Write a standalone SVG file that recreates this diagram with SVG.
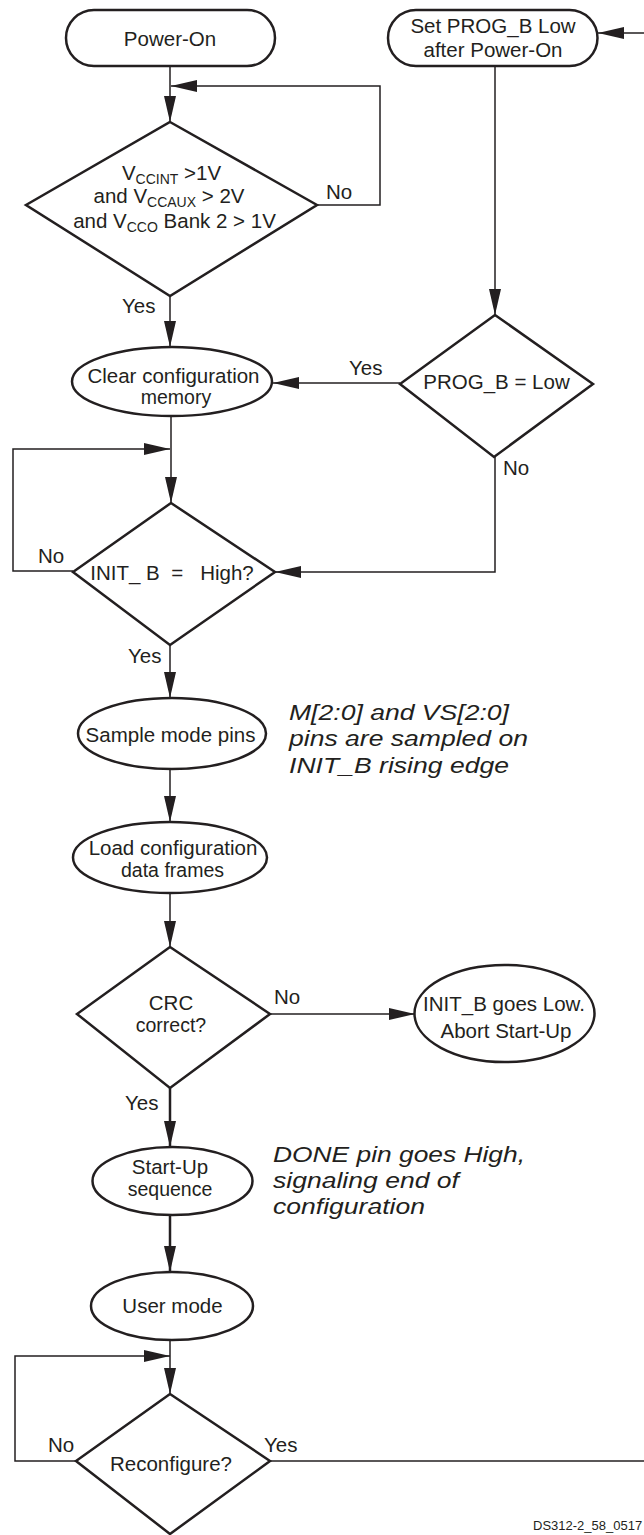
<svg xmlns="http://www.w3.org/2000/svg" width="644" height="1535" viewBox="0 0 644 1535">
<style>
.shape{fill:#fff;stroke:#231f20;stroke-width:2.5}
.conn{fill:none;stroke:#231f20;stroke-width:1.5}
.thick{stroke-width:2.5}
text{font-family:"Liberation Sans",Arial,sans-serif;fill:#231f20}
.t{font-size:20.5px;text-anchor:middle}
.t2{font-size:19.5px;text-anchor:middle}
.lbl{font-size:20.5px}
.note{font-size:22.5px;font-style:italic}
.pre{white-space:pre}
</style>
<defs>
<marker id="ah" markerUnits="userSpaceOnUse" viewBox="0 0 26 12" markerWidth="26" markerHeight="12" refX="26" refY="6" orient="auto">
<path d="M0,0 L26,6 L0,12 z" fill="#231f20"/>
</marker>
</defs>
<rect width="644" height="1535" fill="#fff"/>
<g id="connectors">
<path class="conn" d="M170,66 V122" marker-end="url(#ah)"/>
<path class="conn" d="M317,205 H380 V86 H171" marker-end="url(#ah)"/>
<path class="conn" d="M170,296 V347" marker-end="url(#ah)"/>
<path class="conn" d="M495,66 V315" marker-end="url(#ah)"/>
<path class="conn" d="M644,33 H598" marker-end="url(#ah)"/>
<path class="conn" d="M400,383 H273" marker-end="url(#ah)"/>
<path class="conn" d="M495,457 V572 H275" marker-end="url(#ah)"/>
<path class="conn" d="M171,416 V503" marker-end="url(#ah)"/>
<path class="conn" d="M73,571 H13 V449 H170" marker-end="url(#ah)"/>
<path class="conn" d="M170,645 V698" marker-end="url(#ah)"/>
<path class="conn" d="M170,769 V822" marker-end="url(#ah)"/>
<path class="conn" d="M170,893 V947" marker-end="url(#ah)"/>
<path class="conn" d="M270,1014 H415" marker-end="url(#ah)"/>
<path class="conn thick" d="M170,1088 V1147" marker-end="url(#ah)"/>
<path class="conn thick" d="M170,1215 V1272" marker-end="url(#ah)"/>
<path class="conn" d="M170,1340 V1394" marker-end="url(#ah)"/>
<path class="conn" d="M76,1461 H15 V1356 H170" marker-end="url(#ah)"/>
<path class="conn" d="M270,1461 H644"/>
<text class="lbl" x="326" y="199">No</text>
<text class="lbl" x="122" y="313">Yes</text>
<text class="lbl" x="349" y="375">Yes</text>
<text class="lbl" x="503" y="475">No</text>
<text class="lbl" x="38" y="563">No</text>
<text class="lbl" x="128" y="663">Yes</text>
<text class="lbl" x="274" y="1004">No</text>
<text class="lbl" x="125" y="1110">Yes</text>
<text class="lbl" x="48" y="1452">No</text>
<text class="lbl" x="264" y="1452">Yes</text>
</g>
<g id="power-on">
<rect class="shape" x="66" y="10" width="209" height="56" rx="28"/>
<text class="t" x="170" y="46">Power-On</text>
</g>
<g id="set-prog-b">
<rect class="shape" x="388" y="10" width="209.5" height="56" rx="28"/>
<text class="t" x="493" y="33">Set PROG_B Low</text>
<text class="t" x="493" y="57">after Power-On</text>
</g>
<g id="vcc-check">
<polygon class="shape" points="170,122 317,205 170,296 26,205"/>
<text class="t" x="171.5" y="180">V<tspan font-size="14" dy="4">CCINT</tspan><tspan dy="-4"> &gt;1V</tspan></text>
<text class="t" x="169" y="203">and V<tspan font-size="14" dy="4">CCAUX</tspan><tspan dy="-4"> &gt; 2V</tspan></text>
<text class="t" x="174.5" y="228">and V<tspan font-size="14" dy="4">CCO</tspan><tspan dy="-4"> Bank 2 &gt; 1V</tspan></text>
</g>
<g id="clear-memory">
<ellipse class="shape" cx="172" cy="381.5" rx="100" ry="34.5"/>
<text class="t" x="173.5" y="383">Clear configuration</text>
<text class="t2" x="176" y="404">memory</text>
</g>
<g id="prog-b-low">
<polygon class="shape" points="495,315 593,384 494,457 400,384"/>
<text class="t" x="496.5" y="389">PROG_B = Low</text>
</g>
<g id="init-b-high">
<polygon class="shape" points="171,503 275,572 170,645 73,572"/>
<text class="t pre" x="172" y="580">INIT_ B  =   High?</text>
</g>
<g id="sample-mode">
<ellipse class="shape" cx="172" cy="733.5" rx="94" ry="35.5"/>
<text class="t" x="170.5" y="742">Sample mode pins</text>
</g>
<g id="note-sample">
<text class="note" x="289" y="720" textLength="220" lengthAdjust="spacingAndGlyphs">M[2:0] and VS[2:0]</text>
<text class="note" x="289" y="746" textLength="239" lengthAdjust="spacingAndGlyphs">pins are sampled on</text>
<text class="note" x="289" y="773" textLength="220" lengthAdjust="spacingAndGlyphs">INIT_B rising edge</text>
</g>
<g id="load-config">
<ellipse class="shape" cx="170" cy="857.5" rx="97" ry="35.5"/>
<text class="t" x="173" y="855">Load configuration</text>
<text class="t2" x="172.5" y="877">data frames</text>
</g>
<g id="crc">
<polygon class="shape" points="170,947 270,1014 170,1088 77,1014"/>
<text class="t" x="171" y="1010">CRC</text>
<text class="t2" x="171" y="1032">correct?</text>
</g>
<g id="abort">
<ellipse class="shape" cx="504.5" cy="1013.5" rx="90" ry="48.5"/>
<text class="t" x="504" y="1011">INIT_B goes Low.</text>
<text class="t" x="506" y="1038">Abort Start-Up</text>
</g>
<g id="start-up">
<ellipse class="shape" cx="172.5" cy="1181" rx="80" ry="34"/>
<text class="t" x="170" y="1174">Start-Up</text>
<text class="t2" x="170" y="1196">sequence</text>
</g>
<g id="note-done">
<text class="note" x="273" y="1162" textLength="252" lengthAdjust="spacingAndGlyphs">DONE pin goes High,</text>
<text class="note" x="273" y="1188" textLength="186" lengthAdjust="spacingAndGlyphs">signaling end of</text>
<text class="note" x="273" y="1214" textLength="152" lengthAdjust="spacingAndGlyphs">configuration</text>
</g>
<g id="user-mode">
<ellipse class="shape" cx="172" cy="1306" rx="81" ry="34"/>
<text class="t" x="172.5" y="1313">User mode</text>
</g>
<g id="reconfigure">
<polygon class="shape" points="170,1394 270,1461 170,1534 76,1461"/>
<text class="t" x="171" y="1471">Reconfigure?</text>
</g>
<text x="533" y="1530" font-size="13">DS312-2_58_0517</text>
</svg>
